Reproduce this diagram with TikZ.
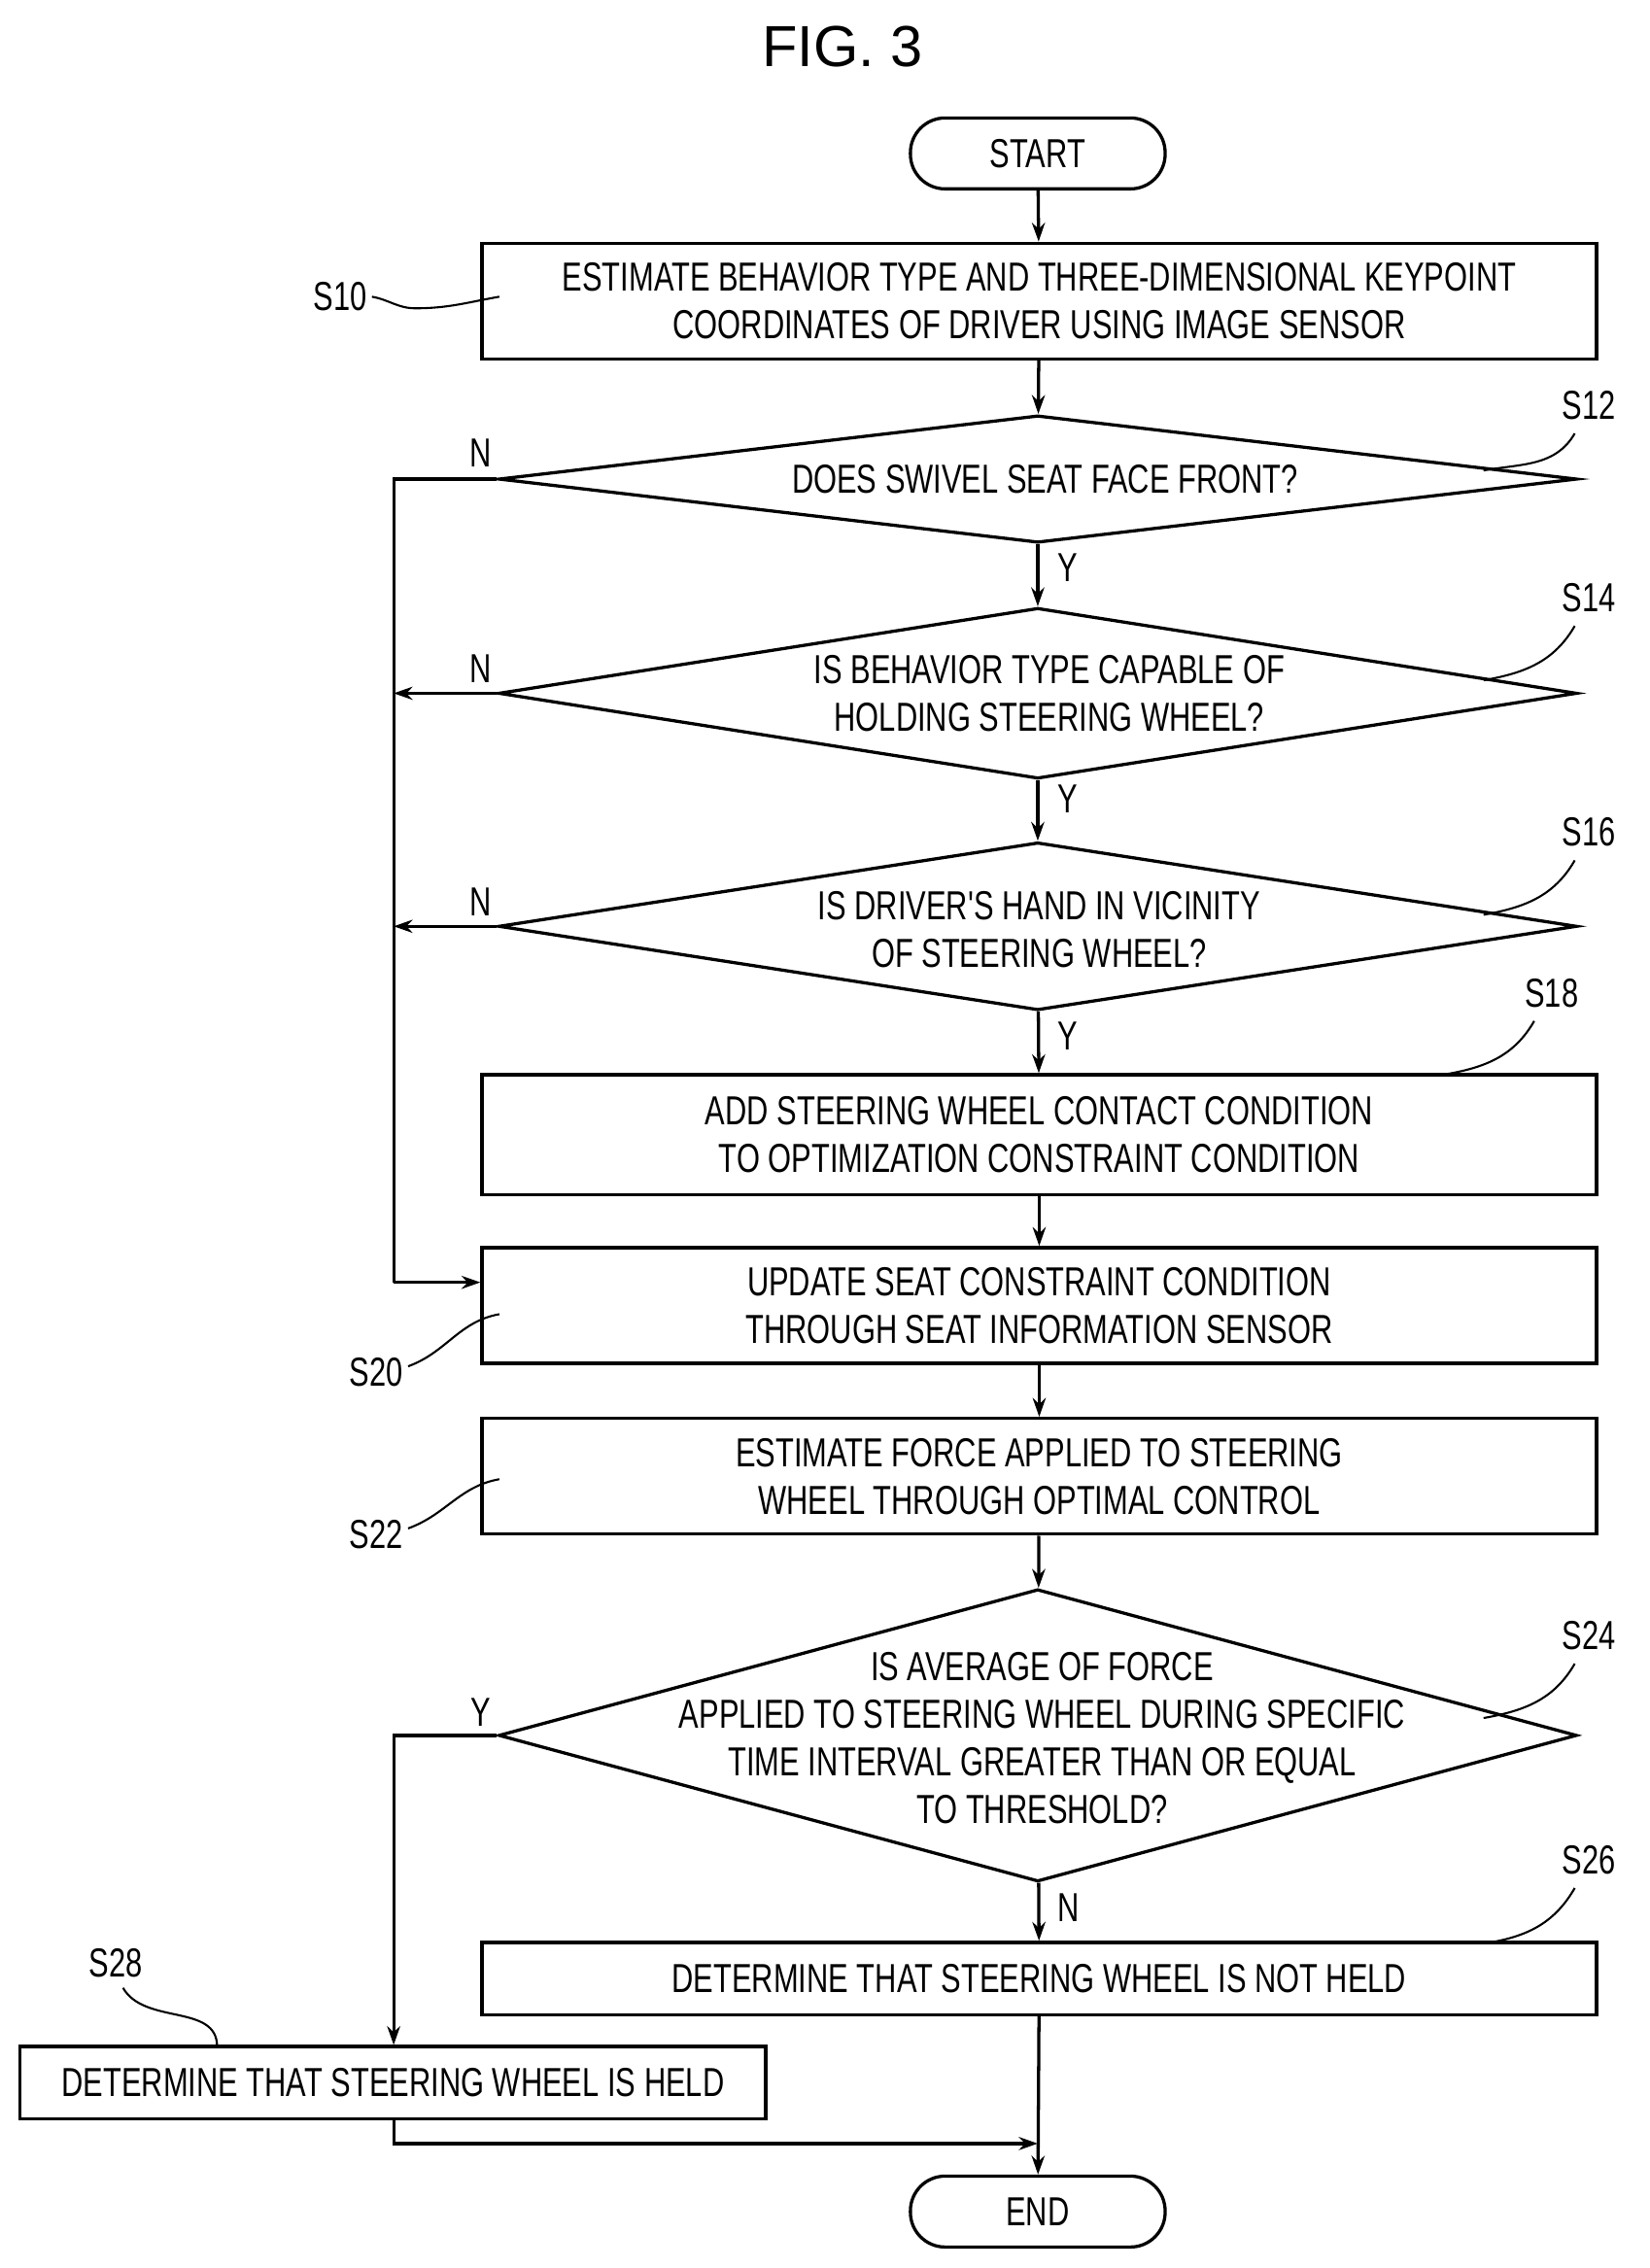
\documentclass[tikz,border=0pt]{standalone}
\usepackage{fontspec}
\setmainfont{Liberation Sans}
\newfontfamily\cf[FakeStretch=0.74]{Liberation Sans}
\usetikzlibrary{shapes.geometric,arrows.meta}
\begin{document}
\begin{tikzpicture}[x=1pt,y=-1pt,
  every node/.style={font=\cf\fontsize{28}{33}\selectfont},
  ln/.style={line width=2.2pt},
  ar/.style={ln,-{Stealth[length=13pt,width=9pt]}},
  box/.style={draw,ln,rectangle,minimum width=770pt,inner sep=0pt},
  dia/.style={draw,ln,diamond,minimum width=745pt,inner sep=0pt},
  term/.style={draw,ln,rounded corners=24pt,minimum width=176pt,minimum height=49pt,inner sep=0pt},
  txt/.style={align=center,inner sep=0pt},
  sq/.style={line width=1.4pt}]
\useasboundingbox (0,0) rectangle (1140,1567);
\node[font=\fontsize{40}{44}\selectfont] (fig) at (582,32) {FIG. 3};
\node[term] (start) at (717,106) {START};
\node[box,minimum height=80pt,txt] (s10) at (718,208) {ESTIMATE BEHAVIOR TYPE AND THREE-DIMENSIONAL KEYPOINT\\COORDINATES OF DRIVER USING IMAGE SENSOR};
\node[dia,minimum height=88pt] (s12) at (717,331) {};
\node[txt] (t12) at (722,331) {DOES SWIVEL SEAT FACE FRONT?};
\node[dia,minimum height=118pt] (s14) at (717,479) {};
\node[txt] (t14) at (725,479) {IS BEHAVIOR TYPE CAPABLE OF\\HOLDING STEERING WHEEL?};
\node[dia,minimum height=116pt] (s16) at (717,640) {};
\node[txt] (t16) at (718,642) {IS DRIVER'S HAND IN VICINITY\\OF STEERING WHEEL?};
\node[box,minimum height=83pt,txt] (s18) at (718,784) {ADD STEERING WHEEL CONTACT CONDITION\\TO OPTIMIZATION CONSTRAINT CONDITION};
\node[box,minimum height=80pt,txt] (s20) at (718,902) {UPDATE SEAT CONSTRAINT CONDITION\\THROUGH SEAT INFORMATION SENSOR};
\node[box,minimum height=80pt,txt] (s22) at (718,1020) {ESTIMATE FORCE APPLIED TO STEERING\\WHEEL THROUGH OPTIMAL CONTROL};
\node[dia,minimum height=202pt] (s24) at (717,1199) {};
\node[txt] (t24) at (720,1201) {IS AVERAGE OF FORCE\\APPLIED TO STEERING WHEEL DURING SPECIFIC\\TIME INTERVAL GREATER THAN OR EQUAL\\TO THRESHOLD?};
\node[box,minimum height=50pt,txt] (s26) at (718,1367) {DETERMINE THAT STEERING WHEEL IS NOT HELD};
\node[draw,ln,minimum width=515pt,minimum height=50pt,inner sep=0pt] (s28) at (271.5,1439) {DETERMINE THAT STEERING WHEEL IS HELD};
\node[term] (end) at (717,1528) {END};
% step labels
\node (l10) at (235,205) {S10};
\node (l12) at (1098,280) {S12};
\node (l14) at (1098,413) {S14};
\node (l16) at (1098,575) {S16};
\node (l18) at (1072,686) {S18};
\node (l20) at (260,948) {S20};
\node (l22) at (260,1060) {S22};
\node (l24) at (1098,1130) {S24};
\node (l26) at (1098,1285) {S26};
\node (l28) at (80,1356) {S28};
\coordinate (c10) at (345,205);
\coordinate (c12) at (1025,325);
\coordinate (c14) at (1025,470);
\coordinate (c16) at (1025,632);
\coordinate (c18) at (1000,742);
\coordinate (c20) at (345,908);
\coordinate (c22) at (345,1022);
\coordinate (c24) at (1025,1187);
\coordinate (c26) at (1030,1342);
\coordinate (c28) at (150,1414);
\draw[sq] (l10.east) to[out=-10,in=180] ++(30,8) to[out=0,in=190] (c10);
\draw[sq] (l12.south) ++(-10,6) to[out=-120,in=10] (c12);
\draw[sq] (l14.south) ++(-10,6) to[out=-120,in=10] (c14);
\draw[sq] (l16.south) ++(-10,6) to[out=-120,in=10] (c16);
\draw[sq] (l18.south) ++(-12,6) to[out=-120,in=10] (c18);
\draw[sq] (l20.east) ++(0,-4) to[out=20,in=190] (c20);
\draw[sq] (l22.east) ++(0,-4) to[out=20,in=190] (c22);
\draw[sq] (l24.south) ++(-10,6) to[out=-120,in=10] (c24);
\draw[sq] (l26.south) ++(-10,6) to[out=-120,in=10] (c26);
\draw[sq] (l28.south) ++(5,4) to[out=-60,in=90] (c28);
% connectors
\coordinate (lx12) at (272,331);
\coordinate (lx14) at (272,479);
\coordinate (lx16) at (272,640);
\coordinate (lx20) at (272,886);
\coordinate (lx24) at (272,1199);
\coordinate (lx28) at (272,1481);
\coordinate (rx28) at (717,1481);
\draw[ar] (start) -- (s10);
\draw[ar] (s10) -- (s12);
\draw[ar] (s12) -- (s14);
\draw[ar] (s14) -- (s16);
\draw[ar] (s16) -- (s18);
\draw[ar] (s18) -- (s20);
\draw[ar] (s20) -- (s22);
\draw[ar] (s22) -- (s24);
\draw[ar] (s24) -- (s26);
\draw[ar] (s26) -- (end);
\draw[ln] (s12.west) -- (lx12) -- (lx20);
\draw[ar] (s14.west) -- (lx14);
\draw[ar] (s16.west) -- (lx16);
\draw[ar] (lx20) -- (lx20 -| s20.west);
\draw[ar] (s24.west) -- (lx24) -- (s28.north -| lx24);
\draw[ar] (s28.south -| lx28) -- (lx28) -- (rx28);
\node at (332,313) {N};
\node at (332,462) {N};
\node at (332,623) {N};
\node at (738,392) {Y};
\node at (738,552) {Y};
\node at (738,716) {Y};
\node at (332,1183) {Y};
\node at (738,1318) {N};
\end{tikzpicture}
\end{document}
